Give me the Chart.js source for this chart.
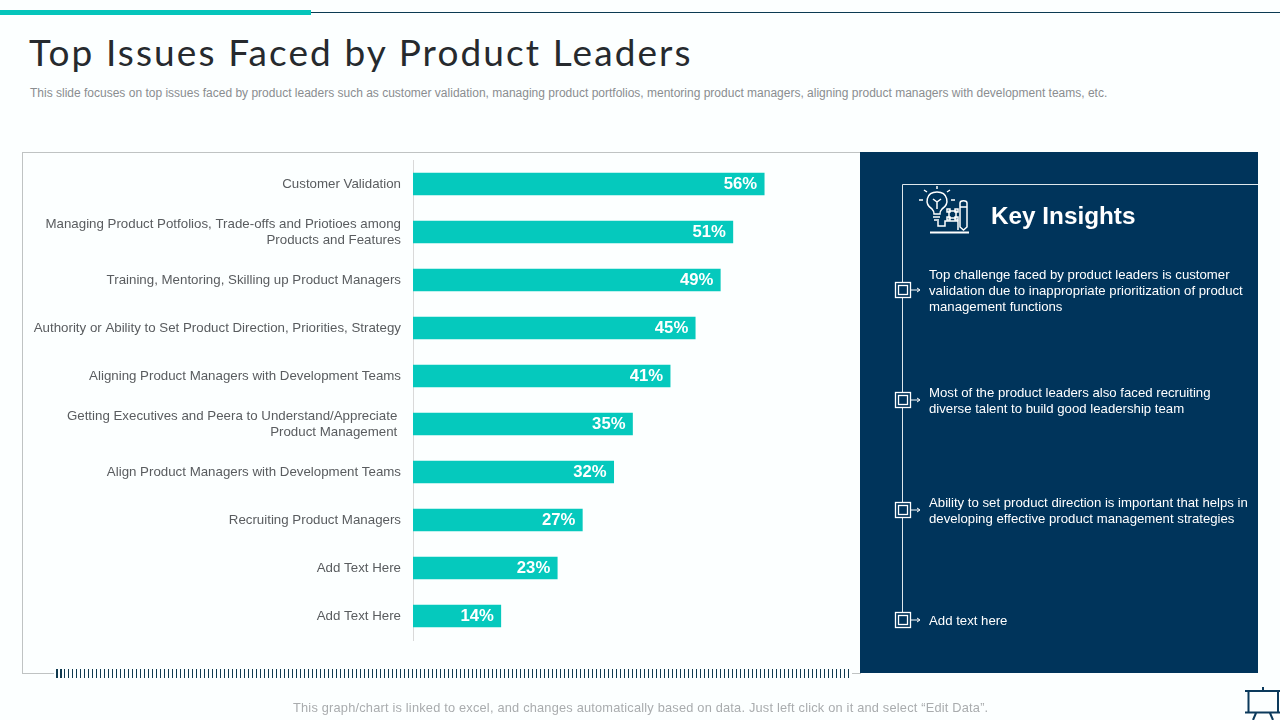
<!DOCTYPE html>
<html>
<head>
<meta charset="utf-8">
<title>Top Issues Faced by Product Leaders</title>
<script src="https://cdn.jsdelivr.net/npm/chart.js@4/dist/chart.umd.min.js"></script>
<style>
  html, body { margin: 0; padding: 0; }
  body { width: 1280px; height: 720px; position: relative; overflow: hidden; background: #fcffff; font-family: "Liberation Sans", Arial, sans-serif; }
  .abs { position: absolute; }
  .topline { left: 311px; top: 12px; width: 969px; height: 1px; background: #0b3a52; }
  .topbar { left: 0; top: 10px; width: 311px; height: 5px; background: #05c5bb; }
  h1 { position: absolute; left: 29px; top: 29px; margin: 0; font: 400 37px Lato, sans-serif; letter-spacing: 2.1px; color: #262a2e; white-space: nowrap; }
  .sub { left: 30px; top: 86px; font-size: 12px; color: #8a8d90; white-space: nowrap; }
  .frame { left: 22px; top: 152px; width: 838px; height: 520px; border: 1px solid #bfc3c3; border-right: 0; box-sizing: content-box; background: transparent; }
  .frame-mask { left: 54px; top: 668px; width: 798px; height: 10px; background: #fcffff; }
  .ruler { left: 56px; top: 669px; width: 794px; height: 9px; background: repeating-linear-gradient(90deg, #0f3a4f 0 1.5px, transparent 1.5px 4px); }
  .panel { left: 860px; top: 152px; width: 398px; height: 521px; background: #00345b; }
  #chart-wrap { position: absolute; left: 23px; top: 153px; width: 837px; height: 519px; }
  .head { left: 991px; top: 202px; font-size: 24.3px; font-weight: bold; color: #fff; white-space: nowrap; }
  .note { left: 929px; font-size: 13.2px; line-height: 16px; color: #fff; white-space: nowrap; }
  .foot { left: 293px; top: 700px; font-size: 12.8px; color: #a9acae; white-space: nowrap; letter-spacing: 0.2px; }
  svg.abs { overflow: visible; }
</style>
</head>
<body>
<div class="abs topline"></div>
<div class="abs topbar"></div>
<h1>Top Issues Faced by Product Leaders</h1>
<div class="abs sub">This slide focuses on top issues faced by product leaders such as customer validation, managing product portfolios, mentoring product managers, aligning product managers with development teams, etc.</div>

<div class="abs frame"></div>
<div class="abs frame-mask"></div>
<div class="abs ruler"></div>
<div id="chart-wrap"><canvas id="issues-chart"></canvas></div>

<div class="abs panel"></div>
<svg class="abs" style="left:0;top:0" width="1280" height="720" fill="none" stroke="#fff">
  <!-- insight frame and bullets -->
  <path d="M1258 184.500H902.500V620" stroke="#dfe7ec"/>
  <g id="bullets"></g>
  <!-- bulb and pencil icon -->
  <g stroke-width="1.5">
    <path d="M932 209c-8-5-6-17 5-17s13 12 5 17c-2 2-2 3-2 5h-6c0-2 0-3-2-5z"/>
    <path d="M933 217h7M934 220h5M937 209v-7M937 202l-4-3M937 202l4-3"/>
    <path d="M937 189v-3M927 192l-3-2M947 192l3-2M923 200h-4M951 200h4"/>
    <path d="M949 211h7v7h-7zM947 209h3v3h-3zM955 209h3v3h-3zM947 217h3v3h-3zM955 217h3v3h-3z"/>
    <path d="M960 203c0-3 7-3 7 0v24l-3.500 3-3.500-3zM960 207h7"/>
    <path d="M938 221v5h7v-5h13v9"/>
    <path d="M930 232.500h39" stroke-width="1.800"/>
  </g>
  <!-- presentation board icon -->
  <g stroke="#0b3a5c" stroke-width="2">
    <path d="M1245 691h35M1245 712.500h35M1248.500 691v22M1278 691v22M1263 687v4M1256 713l-3 7M1270 713l3 7"/>
  </g>
</svg>
<div class="abs head">Key Insights</div>
<div class="abs note" style="top:267px">Top challenge faced by product leaders is customer<br>validation due to inappropriate prioritization of product<br>management functions</div>
<div class="abs note" style="top:385px">Most of the product leaders also faced recruiting<br>diverse talent to build good leadership team</div>
<div class="abs note" style="top:495px">Ability to set product direction is important that helps in<br>developing effective product management strategies</div>
<div class="abs note" style="top:613px">Add text here</div>
<div class="abs foot">This graph/chart is linked to excel, and changes automatically based on data. Just left click on it and select “Edit Data”.</div>

<script>
const issueLabels = [
  'Customer Validation',
  ['Managing Product Potfolios, Trade-offs and Priotioes among', 'Products and Features'],
  'Training, Mentoring, Skilling up Product Managers',
  'Authority or Ability to Set Product Direction, Priorities, Strategy',
  'Aligning Product Managers with Development Teams',
  ['Getting Executives and Peera to Understand/Appreciate\u00a0', 'Product Management\u00a0'],
  'Align Product Managers with Development Teams',
  'Recruiting Product Managers',
  'Add Text Here',
  'Add Text Here'
];
const issueValues = [56, 51, 49, 45, 41, 35, 32, 27, 23, 14];
const bulletRows = [290, 400, 510, 620];

// bullets on the insight line
const bulletGroup = document.getElementById('bullets');
bulletRows.forEach(y => {
  bulletGroup.innerHTML += `<rect x="895.500" y="${y - 7.5}" width="15" height="15" fill="#00345b" stroke-width="1.300"/>` +
    `<rect x="898.500" y="${y - 4.5}" width="9" height="9" stroke-width="1.300"/>` +
    `<path d="M911 ${y}h8M917 ${y - 2}l3 2-3 2"/>`;
});

const barLabelPlugin = {
  id: 'barLabels',
  afterDatasetsDraw(chart) {
    const ctx = chart.ctx;
    ctx.save();
    ctx.font = 'bold 16.7px "Liberation Sans"';
    ctx.fillStyle = '#ffffff';
    ctx.textAlign = 'right';
    ctx.textBaseline = 'middle';
    chart.getDatasetMeta(0).data.forEach((bar, i) => {
      ctx.fillText(issueValues[i] + '%', bar.x - 7, bar.y + 0.5);
    });
    ctx.restore();
  }
};

new Chart(document.getElementById('issues-chart'), {
  type: 'bar',
  data: {
    labels: issueLabels,
    datasets: [{
      data: issueValues,
      backgroundColor: '#05c9bd',
      barThickness: 22
    }]
  },
  options: {
    indexAxis: 'y',
    responsive: true,
    maintainAspectRatio: false,
    animation: false,
    layout: { padding: { top: 7, bottom: 32, right: 8, left: 0 } },
    plugins: { legend: { display: false }, tooltip: { enabled: false } },
    scales: {
      x: { display: false, min: 0, max: 70 },
      y: {
        afterFit(axis) {
          axis.width = 390;
          // no extra room for the first and last tick label
          axis.paddingTop = 0;
          axis.paddingBottom = 0;
        },
        grid: { display: false },
        border: { color: '#d9d9d9' },
        ticks: {
          color: '#595c5f',
          padding: 4,
          autoSkip: false,
          font: { family: '"Liberation Sans"', size: 13.3, lineHeight: 1.2 }
        }
      }
    }
  },
  plugins: [barLabelPlugin]
});
</script>
</body>
</html>
